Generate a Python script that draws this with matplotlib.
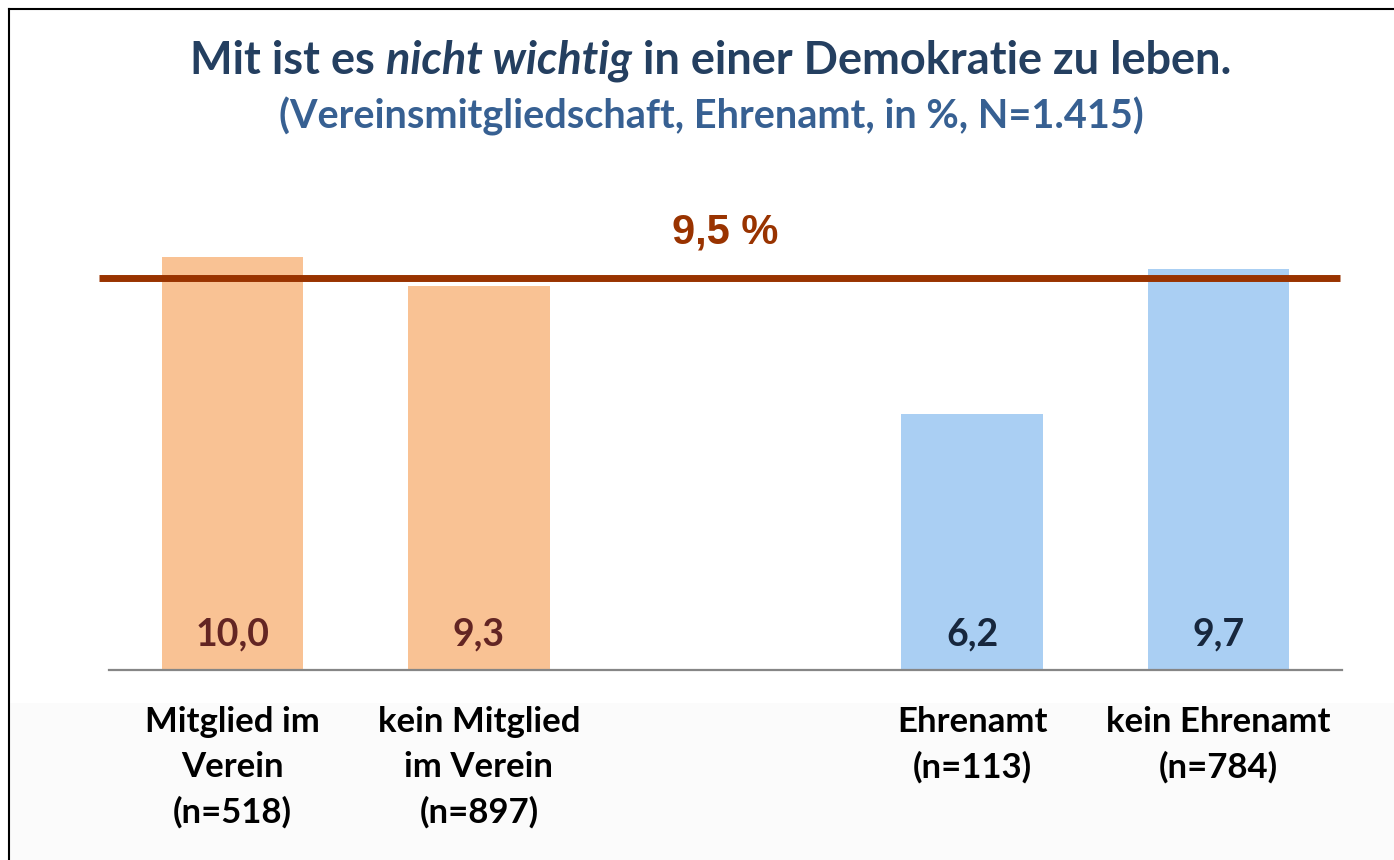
import matplotlib
matplotlib.use("Agg")
import matplotlib.pyplot as plt
from matplotlib.patches import Rectangle
from matplotlib.lines import Line2D

plt.rcParams["font.family"] = ["Lato", "DejaVu Sans"]

# Daten
kategorien = ["Mitglied im\nVerein\n(n=518)", "kein Mitglied\nim Verein\n(n=897)",
              "Ehrenamt\n(n=113)", "kein Ehrenamt\n(n=784)"]
positionen = [0, 1, 3, 4]
werte = [10.0, 9.3, 6.2, 9.7]
wert_labels = ["10,0", "9,3", "6,2", "9,7"]
gesamt = 9.5
gesamt_label = "9,5 %"

bar_farben = ["#F9C294", "#F9C294", "#AACFF3", "#AACFF3"]
text_farben = ["#632523", "#632523", "#17273D", "#17273D"]

W, H = 1394, 860
fig = plt.figure(figsize=(W / 100, H / 100), dpi=100)
fig.patch.set_facecolor("white")

# hellgrauer Bereich unten + Rahmen links/oben
fig.patches.append(Rectangle((10 / W, 0), 1, (H - 703) / H, transform=fig.transFigure,
                             facecolor="#FBFBFB", edgecolor="none", zorder=-5))
fig.lines.append(Line2D([9 / W, 9 / W], [0, 1 - 9 / H], transform=fig.transFigure,
                        color="black", lw=1.5))
fig.lines.append(Line2D([9 / W, 1], [1 - 9 / H, 1 - 9 / H], transform=fig.transFigure,
                        color="black", lw=1.5))

ax_l, ax_r, base_y = 109, 1342, 670
px_per_unit = 41.3
ymax = 12.0
ax = fig.add_axes([ax_l / W, (H - base_y) / H, (ax_r - ax_l) / W, ymax * px_per_unit / H])
ax.set_facecolor("none")
ax.set_zorder(2)

ax.bar(positionen, werte, width=0.573, color=bar_farben, zorder=2)
ax.set_xlim(-0.5, 4.5)
ax.set_ylim(0, ymax)

for s in ["top", "right", "left"]:
    ax.spines[s].set_visible(False)
ax.spines["bottom"].set_color("#868686")
ax.spines["bottom"].set_linewidth(1.6)
ax.set_yticks([])
ax.set_xticks(positionen)
ax.set_xticklabels(kategorien, fontsize=25, fontweight="bold", color="black", linespacing=1.5)
ax.tick_params(axis="x", length=0, pad=26)

for x, lab, c in zip(positionen, wert_labels, text_farben):
    ax.text(x, 0.85, lab, ha="center", va="center", fontsize=27, fontweight="bold", color=c, zorder=3)

ax.axhline(gesamt, xmin=-0.0081, xmax=0.9984, color="#993300", lw=5, clip_on=False,
           solid_capstyle="butt", zorder=4)
ax.text(2.0, gesamt + 1.1, gesamt_label, ha="center", va="center", fontsize=30,
        fontweight="bold", color="#993300", family=["Liberation Sans", "DejaVu Sans"])

# Titel mit kursivem Teil
teile = [("Mit ist es ", "normal"), ("nicht wichtig", "italic"), (" in einer Demokratie zu leben.", "normal")]
renderer = fig.canvas.get_renderer()
texte = []
for t, st in teile:
    texte.append(fig.text(0, 1 - 61 / H, t, fontsize=32.5, fontweight="bold", style=st,
                          color="#243F60", ha="left", va="center"))
breiten = [tx.get_window_extent(renderer).width for tx in texte]
x0 = 711 - sum(breiten) / 2
for tx, b in zip(texte, breiten):
    tx.set_x(x0 / W)
    x0 += b

fig.text(711 / W, 1 - 116 / H, "(Vereinsmitgliedschaft, Ehrenamt, in %, N=1.415)", fontsize=28.5,
         fontweight="bold", color="#376092", ha="center", va="center")

fig.savefig("out.png", dpi=100)
